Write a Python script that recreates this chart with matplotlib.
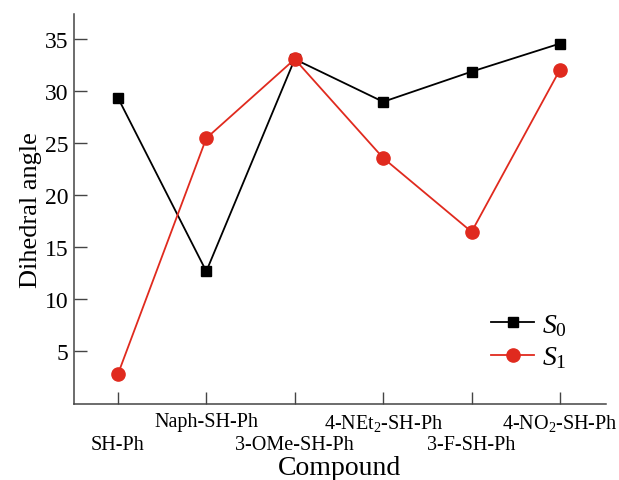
import matplotlib
matplotlib.use("Agg")
import matplotlib.pyplot as plt

font = {'family': 'serif', 'serif': ['Liberation Serif', 'DejaVu Serif'], 'size': 17}
matplotlib.rc('font', **font)
matplotlib.rcParams["mathtext.fontset"] = "custom"
matplotlib.rcParams["mathtext.rm"] = "Liberation Serif"
matplotlib.rcParams["mathtext.it"] = "Liberation Serif:italic"

# dati
compounds = ["SH-Ph", "Naph-SH-Ph", "3-OMe-SH-Ph", "4-NEt$_2$-SH-Ph", "3-F-SH-Ph", "4-NO$_2$-SH-Ph"]
S0 = [29.4, 12.7, 33.1, 29.0, 31.9, 34.6]
S1 = [2.8, 25.5, 33.1, 23.6, 16.5, 32.1]

fig = plt.figure(figsize=(6.19, 4.81), dpi=100)
ax = fig.add_axes([0.119, 0.157, 0.86, 0.812])

x = range(len(compounds))
ax.plot(x, S0, "-s", color="black", lw=1.3, ms=7, label="$S_0$")
ax.plot(x, S1, "-o", color="#e02a1e", lw=1.3, ms=9.5, label="$S_1$")

ax.set_xlim(-0.5, 5.52)
ax.set_ylim(-0.1, 37.45)
ax.set_yticks([5, 10, 15, 20, 25, 30, 35])
ax.set_xticks(list(x))
ax.set_xticklabels(compounds, fontsize=14.5)
ax.tick_params(direction="in", length=9, width=1, color="#444444")
ax.tick_params(axis="x", pad=5.5)
ax.tick_params(axis="y", pad=4)
# etichette alternate su due righe
for i, t in enumerate(ax.xaxis.get_major_ticks()):
    if i % 2 == 0:
        t.set_pad(22)
ax.spines["top"].set_visible(False)
ax.spines["right"].set_visible(False)
for s in ["left", "bottom"]:
    ax.spines[s].set_color("#444444")
    ax.spines[s].set_linewidth(1.1)

ax.set_xlabel("Compound", fontsize=20, labelpad=0.5)
ax.set_ylabel("Dihedral angle", fontsize=19, labelpad=2)

ax.legend(loc="center left", bbox_to_anchor=(0.784, 0.162), frameon=False, fontsize=20,
          handlelength=1.55, handletextpad=0.3, labelspacing=0.25, borderpad=0,
          borderaxespad=0)

fig.savefig("out.png", dpi=100)
